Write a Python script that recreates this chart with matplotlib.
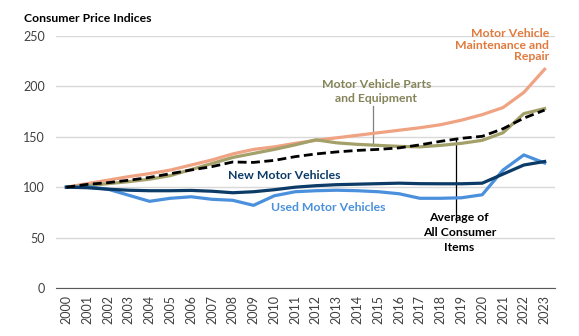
import numpy as np
import matplotlib
matplotlib.use("Agg")
import matplotlib.pyplot as plt

plt.rcParams['font.family'] = ['Lato', 'DejaVu Sans']

years = [str(y) for y in range(2000, 2024)]

maintenance = [100, 103.5, 107, 110.5, 113.5, 117, 122, 127, 133, 137.5, 140, 143.5,
               146.5, 149, 151.5, 154, 156.5, 159, 162, 166.5, 172, 179, 194, 217]
parts = [100, 101.5, 103.5, 105.5, 108, 111.5, 117.5, 123.5, 129.5, 133.5, 137.5, 142,
         147, 144, 142.5, 141.5, 140.5, 140, 141.5, 143.5, 146.5, 154, 173, 178]
all_items = [100, 102.8, 104.5, 106.9, 109.7, 113.4, 117.1, 120.4, 125, 124.6, 126.6, 130.3,
             133, 135, 136.5, 137.5, 139, 142, 145.5, 148.5, 150.5, 158, 168.5, 176.5]
new_mv = [100, 99.5, 98, 97, 96.5, 96.5, 96.8, 96, 94.5, 95.5, 97.5, 100,
          101.5, 102.5, 103, 103.5, 104, 103.5, 103.4, 103.4, 104, 113, 122, 125.5]
used_mv = [100, 100.5, 98, 92, 86, 89, 90.5, 88, 87, 82, 91.5, 95.5,
           96.5, 97, 96.5, 95.5, 93.5, 89, 89, 89.5, 92.5, 117, 132, 124]

c_orange = '#F0A382'
c_orange_txt = '#E07A3E'
c_olive = '#A3A06A'
c_olive_txt = '#86845A'
c_navy = '#0B3B66'
c_blue = '#4A90DC'

fig = plt.figure(figsize=(5.79, 3.36), dpi=100)
ax = fig.add_axes([56/579, 48/336, (555-56)/579, (288-36)/336])

x = np.arange(len(years))
ax.plot(x, maintenance, color=c_orange, lw=2.3, zorder=3)
ax.plot(x, parts, color=c_olive, lw=2.3, zorder=3)
ax.plot(x, all_items, color='black', lw=2.0, ls=(0, (3.2, 1.6)), zorder=5)
ax.plot(x, used_mv, color=c_blue, lw=2.3, zorder=3)
ax.plot(x, new_mv, color=c_navy, lw=2.3, zorder=4)

ax.set_xlim(-0.5, 23.5)
ax.set_ylim(0, 250)
ax.set_yticks([0, 50, 100, 150, 200, 250])
ax.set_xticks(x)
ax.set_xticklabels(years, rotation=90)
ax.tick_params(length=0, labelsize=9, labelcolor='#404040')
ax.tick_params(axis='x', pad=5)
ax.tick_params(axis='y', pad=8)
ax.grid(axis='y', color='#D9D9D9', lw=1)
ax.set_axisbelow(True)
for s in ['top', 'right', 'left']:
    ax.spines[s].set_visible(False)
ax.spines['bottom'].set_color('#595959')

fs = 8.8
fig.text(24/579, 1 - 19/336, 'Consumer Price Indices', fontsize=fs, fontweight='bold',
         va='center', ha='left')

ax.text(23.2, 241, 'Motor Vehicle\nMaintenance and\nRepair', color=c_orange_txt,
        fontsize=fs, fontweight='bold', ha='right', va='center', linespacing=1.1)
ax.text(14.9, 195, 'Motor Vehicle Parts\nand Equipment', color=c_olive_txt,
        fontsize=fs, fontweight='bold', ha='center', va='center', linespacing=1.4)
ax.plot([14.75, 14.75], [181, 142], color='#7F7F7F', lw=0.9)
ax.text(10.5, 112, 'New Motor Vehicles', color=c_navy, fontsize=fs, fontweight='bold',
        ha='center', va='center')
ax.text(12.6, 80, 'Used Motor Vehicles', color=c_blue, fontsize=fs, fontweight='bold',
        ha='center', va='center')
ax.text(18.9, 55, 'Average of\nAll Consumer\nItems', color='black', fontsize=fs,
        fontweight='bold', ha='center', va='center', linespacing=1.4)
ax.plot([18.75, 18.75], [147.5, 65], color='black', lw=0.9)

fig.savefig('out.png', dpi=100)
